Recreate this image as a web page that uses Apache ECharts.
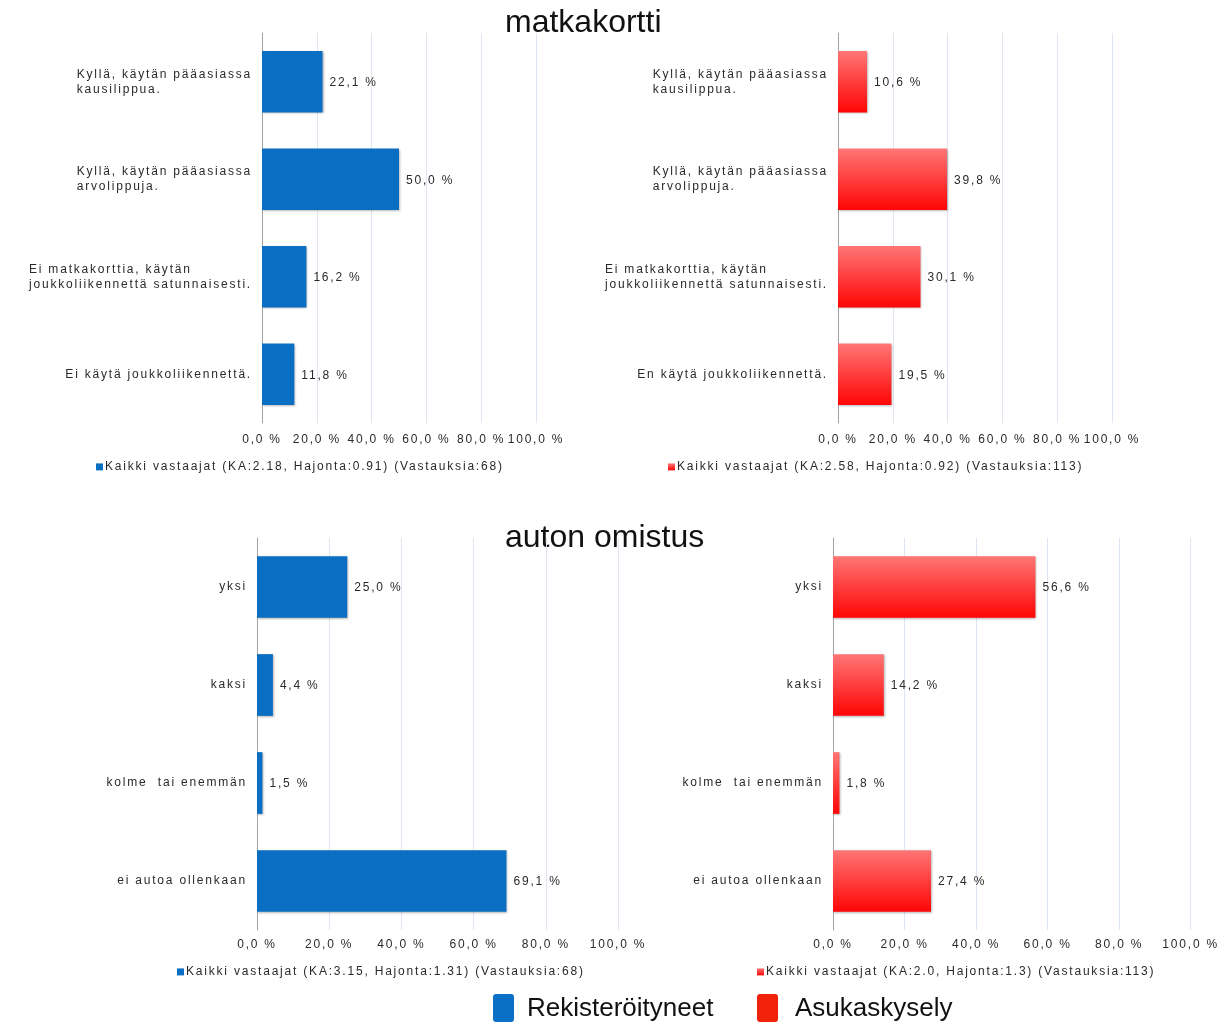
<!DOCTYPE html>
<html>
<head>
<meta charset="utf-8">
<title>matkakortti / auton omistus</title>
<script src="https://cdn.jsdelivr.net/npm/echarts@6/dist/echarts.min.js"></script>
<style>
  html, body { margin: 0; padding: 0; background: #fff; }
  #chart { width: 1222px; height: 1023px; }
</style>
</head>
<body>
<div id="chart"></div>
<script>
// ---- data ----
const matkaCategories = [
  'Kyllä, käytän pääasiassa\nkausilippua.',
  'Kyllä, käytän pääasiassa\narvolippuja.',
  'Ei matkakorttia, käytän\njoukkoliikennettä satunnaisesti.',
  'Ei käytä joukkoliikennettä.'
];
const matkaCategoriesResidents = [
  'Kyllä, käytän pääasiassa\nkausilippua.',
  'Kyllä, käytän pääasiassa\narvolippuja.',
  'Ei matkakorttia, käytän\njoukkoliikennettä satunnaisesti.',
  'En käytä joukkoliikennettä.'
];
const matkaRegistered = [22.1, 50.0, 16.2, 11.8];
const matkaResidents = [10.6, 39.8, 30.1, 19.5];

const autoCategories = ['yksi', 'kaksi', 'kolme  tai enemmän', 'ei autoa ollenkaan'];
const autoRegistered = [25.0, 4.4, 1.5, 69.1];
const autoResidents = [56.6, 14.2, 1.8, 27.4];

const seriesNames = [
  'Kaikki vastaajat (KA:2.18, Hajonta:0.91) (Vastauksia:68)',
  'Kaikki vastaajat (KA:2.58, Hajonta:0.92) (Vastauksia:113)',
  'Kaikki vastaajat (KA:3.15, Hajonta:1.31) (Vastauksia:68)',
  'Kaikki vastaajat (KA:2.0, Hajonta:1.3) (Vastauksia:113)'
];
const sectionTitles = ['matkakortti', 'auton omistus'];
const groupNames = ['Rekisteröityneet', 'Asukaskysely'];
const xTicks = { min: 0, max: 100, interval: 20 };

// ---- small report lettering is tracked out a little ----
(function () {
  const proto = CanvasRenderingContext2D.prototype;
  if (!('letterSpacing' in proto)) return;
  const fill = proto.fillText, measure = proto.measureText;
  const track = ctx => (/(^|\s)12px/.test(ctx.font) ? '1.8px' : '0px');
  proto.fillText = function () { this.letterSpacing = track(this); return fill.apply(this, arguments); };
  proto.measureText = function () { this.letterSpacing = track(this); return measure.apply(this, arguments); };
})();

const FONT = '"Liberation Sans", Arial, sans-serif';
const TEXT = '#2a2a2a';
const pct = v => v.toFixed(1).replace('.', ',') + ' %';

const blue = '#0a6fc2';
const red = new echarts.graphic.LinearGradient(0, 0, 0, 1, [
  { offset: 0, color: '#ff7676' },
  { offset: 1, color: '#ff0505' }
]);

const panels = [
  { grid: { left: 262, top: 33, width: 274, height: 390 }, cats: matkaCategories, data: matkaRegistered, color: blue, xMargin: 10 },
  { grid: { left: 838, top: 33, width: 274, height: 390 }, cats: matkaCategoriesResidents, data: matkaResidents, color: red, xMargin: 10 },
  { grid: { left: 257, top: 538, width: 361, height: 392 }, cats: autoCategories, data: autoRegistered, color: blue, xMargin: 8 },
  { grid: { left: 833, top: 538, width: 362, height: 392 }, cats: autoCategories, data: autoResidents, color: red, xMargin: 8 }
];
const legendPos = [
  { left: 96, top: 460 },
  { left: 668, top: 460 },
  { left: 177, top: 965 },
  { left: 757, top: 965 }
];

const option = {
  backgroundColor: '#fff',
  animation: false,
  textStyle: { fontFamily: FONT },
  grid: panels.map(p => Object.assign({ containLabel: false }, p.grid)),
  xAxis: panels.map((p, i) => ({
    type: 'value', gridIndex: i,
    min: xTicks.min, max: xTicks.max, interval: xTicks.interval,
    axisLine: { show: false }, axisTick: { show: false },
    splitLine: { show: true, lineStyle: { color: '#dde6f1', width: 1 } },
    axisLabel: { formatter: pct, color: TEXT, fontSize: 12, fontFamily: FONT, margin: p.xMargin }
  })),
  yAxis: panels.map((p, i) => ({
    type: 'category', gridIndex: i, inverse: true, data: p.cats,
    axisLine: { show: true, lineStyle: { color: '#a3a3a3', width: 1 } },
    axisTick: { show: false },
    splitLine: { show: false },
    axisLabel: {
      margin: 10, color: TEXT, fontSize: 12, fontFamily: FONT,
      formatter: v => v.split('\n').map(s => '{l|' + s + '}').join('\n'),
      rich: { l: { align: 'left', lineHeight: 15, fontSize: 12, fontFamily: FONT, color: TEXT } }
    }
  })),
  legend: seriesNames.map((name, i) => Object.assign({
    data: [name], orient: 'horizontal', padding: 0,
    icon: 'rect', itemWidth: 7, itemHeight: 7, itemGap: 0,
    selectedMode: false,
    textStyle: { color: TEXT, fontSize: 12, fontFamily: FONT, padding: [0, 0, 0, -3] }
  }, legendPos[i])),
  series: panels.map((p, i) => ({
    type: 'bar', name: seriesNames[i], xAxisIndex: i, yAxisIndex: i,
    data: p.data, barWidth: '63%',
    itemStyle: {
      color: p.color,
      shadowColor: 'rgba(0,0,0,0.28)', shadowBlur: 2, shadowOffsetX: 1, shadowOffsetY: 1
    },
    label: {
      show: true, position: 'right', distance: 7, offset: [0, 1],
      formatter: d => pct(d.value),
      color: TEXT, fontSize: 12, fontFamily: FONT
    }
  })),
  graphic: [
    { type: 'text', left: 505, top: 7, style: { text: sectionTitles[0], font: '32px ' + FONT, fill: '#111' } },
    { type: 'text', left: 505, top: 522, style: { text: sectionTitles[1], font: '32px ' + FONT, fill: '#111' } },
    { type: 'rect', shape: { x: 493, y: 994, width: 21, height: 28, r: 3 }, style: { fill: '#0a70c6' } },
    { type: 'text', left: 527, top: 996, style: { text: groupNames[0], font: '26px ' + FONT, fill: '#111' } },
    { type: 'rect', shape: { x: 757, y: 994, width: 21, height: 28, r: 3 }, style: { fill: '#f0220a' } },
    { type: 'text', left: 795, top: 996, style: { text: groupNames[1], font: '26px ' + FONT, fill: '#111' } }
  ]
};

const chart = echarts.init(document.getElementById('chart'), null, { renderer: 'canvas' });
chart.setOption(option);
</script>
</body>
</html>
